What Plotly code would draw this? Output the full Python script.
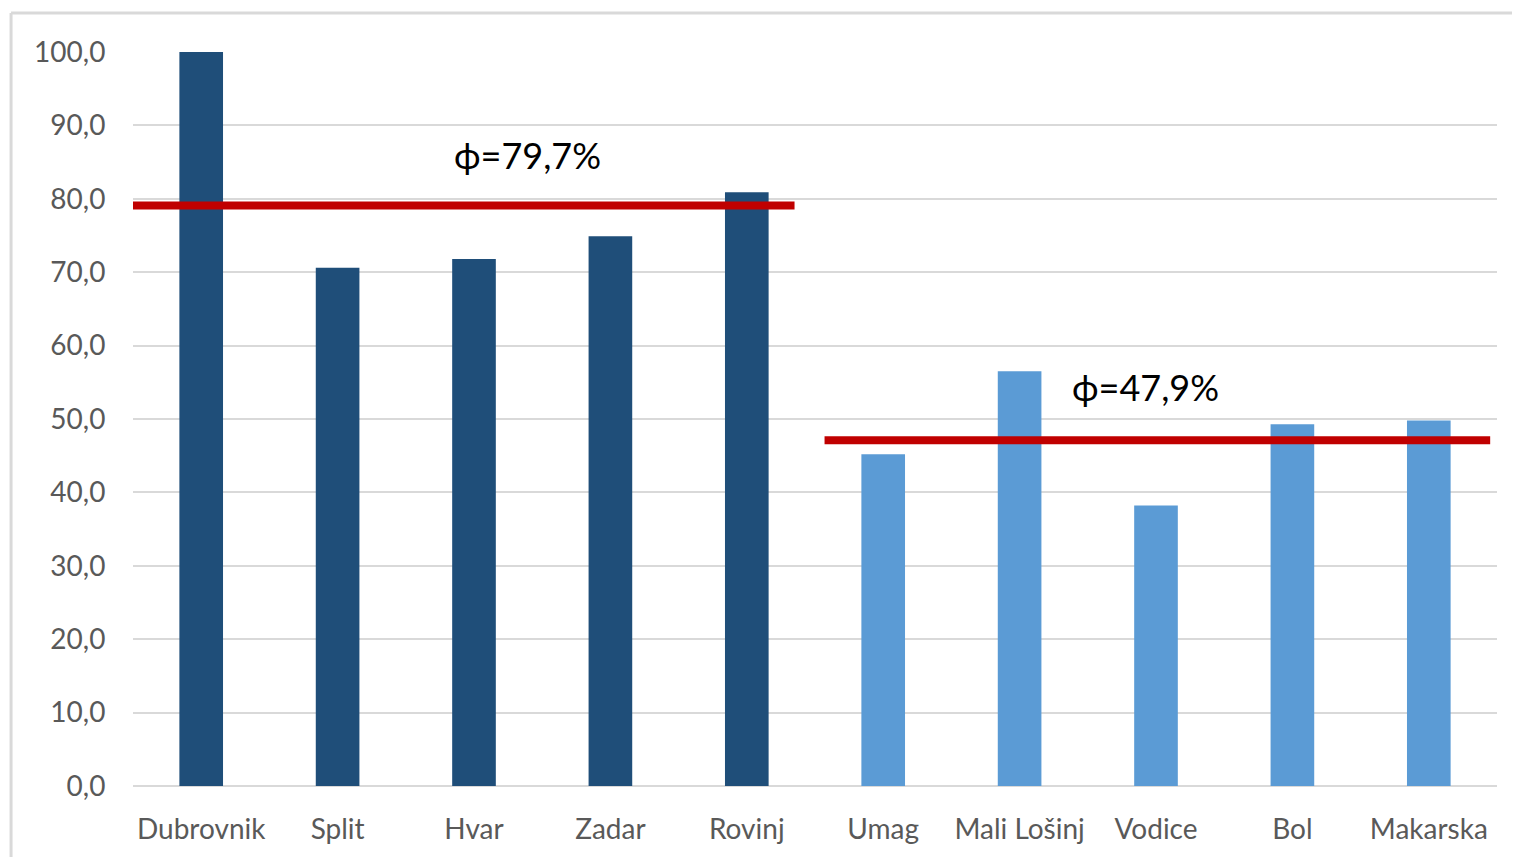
import plotly.graph_objects as go

categories = ["Dubrovnik", "Split", "Hvar", "Zadar", "Rovinj",
              "Umag", "Mali Lošinj", "Vodice", "Bol", "Makarska"]
values = [100.0, 70.6, 71.8, 74.9, 80.9, 45.2, 56.5, 38.2, 49.3, 49.8]
group = ["A", "A", "A", "A", "A", "B", "B", "B", "B", "B"]
avg_values = [79.1, 47.1]
avg_labels = ["ϕ=79,7%", "ϕ=47,9%"]
y_ticks = [0, 10, 20, 30, 40, 50, 60, 70, 80, 90, 100]
y_tick_text = ["0,0", "10,0", "20,0", "30,0", "40,0", "50,0", "60,0", "70,0", "80,0", "90,0", "100,0"]

colors = {"A": "#1F4E79", "B": "#5B9BD5"}

fig = go.Figure()
fig.add_trace(go.Bar(
    x=categories, y=values,
    marker=dict(color=[colors[g] for g in group], line=dict(width=0)),
    width=0.32, showlegend=False,
))

font_family = "Lato, 'Open Sans', sans-serif"

# average lines
line_spans = [(-0.515, 4.35), (4.57, 9.45)]
label_pos = [(2.39, 85.9), (6.92, 54.3)]
for (x0, x1), yv, (lx, ly), txt in zip(line_spans, avg_values, label_pos, avg_labels):
    fig.add_shape(type="line", xref="x", yref="y", x0=x0, x1=x1, y0=yv, y1=yv,
                  line=dict(color="#C00000", width=8), layer="above")
    fig.add_annotation(x=lx, y=ly, xref="x", yref="y", text=txt, showarrow=False,
                       font=dict(family=font_family, size=36, color="#000000"))

# chart border
fig.add_shape(type="line", xref="paper", yref="paper", x0=-0.0894, x1=1.05, y0=1.053, y1=1.053,
              line=dict(color="#D9D9D9", width=3))
fig.add_shape(type="line", xref="paper", yref="paper", x0=-0.0894, x1=-0.0894, y0=1.053, y1=-0.2,
              line=dict(color="#D9D9D9", width=3))

fig.update_layout(
    width=1504, height=849,
    margin=dict(l=125, r=15, t=44, b=68),
    paper_bgcolor="white", plot_bgcolor="white",
    font=dict(family=font_family, color="#595959", size=28),
)
fig.update_xaxes(range=[-0.5, 9.5], showgrid=False, showline=False, zeroline=False,
                 ticks="outside", ticklen=18, tickcolor="rgba(0,0,0,0)",
                 tickfont=dict(size=28, color="#595959"))
fig.update_yaxes(range=[0, 100], tickvals=y_ticks, ticktext=y_tick_text,
                 showgrid=True, gridcolor="#D9D9D9", gridwidth=1.5,
                 zeroline=True, zerolinecolor="#D9D9D9", zerolinewidth=1.5,
                 showline=False, ticks="outside", ticklen=21, tickcolor="rgba(0,0,0,0)",
                 tickfont=dict(size=28, color="#595959"))

fig.write_html("out.html")
